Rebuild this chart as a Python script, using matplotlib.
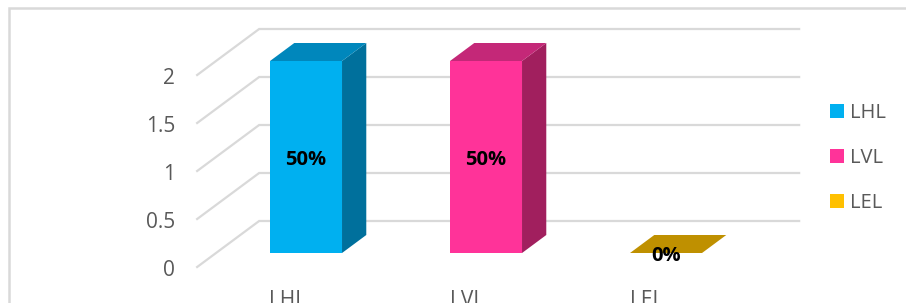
import matplotlib
matplotlib.use("Agg")
import matplotlib.pyplot as plt
from matplotlib.patches import Polygon, Rectangle
from matplotlib.transforms import offset_copy

# ---- data ----
categories = ["LHL", "LVL", "LEL"]
values = [2, 2, 0]
labels = ["50%", "50%", "0%"]
yticks = [0, 0.5, 1, 1.5, 2]
ytick_labels = ["0", "0.5", "1", "1.5", "2"]

front_colors = ["#00B0F0", "#FF3399", "#FFC000"]
top_colors = ["#0087BC", "#C42878", "#BF9000"]
side_colors = ["#00709C", "#A11F5E", "#9C7500"]

plt.rcParams['font.family'] = ['Open Sans', 'DejaVu Sans']

W, H, DPI = 906, 303, 100
fig = plt.figure(figsize=(W / DPI, H / DPI), dpi=DPI)
ax = fig.add_axes([0, 0, 1, 1])
ax.set_axis_off()

PX_CAT = 180.0   # pixels per category
PX_VAL = 96.0    # pixels per value unit
X0_PX = 287.15   # pixel x of category 0 at front edge
Y0_PX = 36.0     # pixel y (from bottom) of value 0 at front edge
ax.set_xlim(-X0_PX / PX_CAT, (W - X0_PX) / PX_CAT)
ax.set_ylim(-Y0_PX / PX_VAL, (H - Y0_PX) / PX_VAL)

DX = 62.0 / PX_CAT   # full-depth shift in category units
DY = 46.0 / PX_VAL   # full-depth shift in value units


def P(x, v, t):
    return (x + t * DX, v + t * DY)


grid_color = "#D9D9D9"
xl, xr = -0.5, 2.5
for v in yticks:
    a = P(xl, v, 0)
    b = P(xl, v, 1)
    c = P(xr, v, 1)
    ax.plot([a[0], b[0], c[0]], [a[1], b[1], c[1]], color=grid_color, lw=1.6,
            solid_joinstyle='miter', zorder=1)

# y tick labels
tr_lab = offset_copy(ax.transData, fig=fig, x=-22, y=-3, units='dots')
for v, s in zip(yticks, ytick_labels):
    x, y = P(xl, v, 0)
    ax.text(x, y, s, transform=tr_lab, ha='right', va='center',
            fontsize=15, color="#595959")

# bars
bw = 0.4
t0, t1 = 14 / 46, 32 / 46
tr_mid = offset_copy(ax.transData, fig=fig, x=0, y=-3, units='dots')
for i, (val, fc, tc, sc) in enumerate(zip(values, front_colors, top_colors, side_colors)):
    x0, x1 = i - bw / 2, i + bw / 2
    front = [P(x0, 0, t0), P(x1, 0, t0), P(x1, val, t0), P(x0, val, t0)]
    top = [P(x0, val, t0), P(x1, val, t0), P(x1, val, t1), P(x0, val, t1)]
    side = [P(x1, 0, t0), P(x1, 0, t1), P(x1, val, t1), P(x1, val, t0)]
    if val > 0:
        ax.add_patch(Polygon(side, closed=True, facecolor=sc, edgecolor='none', zorder=3))
        ax.add_patch(Polygon(front, closed=True, facecolor=fc, edgecolor='none', zorder=3))
    ax.add_patch(Polygon(top, closed=True, facecolor=tc, edgecolor='none', zorder=3))
    # data label
    if val > 0:
        lx, ly = P(i, val / 2, t0)
        ax.text(lx, ly, labels[i], ha='center', va='center', fontsize=14.5,
                fontweight='bold', color='black', zorder=5, transform=tr_mid)
    else:
        lx, ly = P(i, 0, t0)
        tr_dl = offset_copy(ax.transData, fig=fig, x=0, y=-3, units='dots')
        ax.text(lx, ly, labels[i], ha='center', va='center', fontsize=14.5,
                fontweight='bold', color='black', zorder=5, transform=tr_dl)

# category labels
tr_cat = offset_copy(ax.transData, fig=fig, x=0, y=-23, units='dots')
for i, c in enumerate(categories):
    x, y = P(i, 0, 0)
    ax.text(x, y, c, transform=tr_cat, ha='center', va='top', fontsize=15,
            color="#595959")

# legend
leg_x_sq = 830
leg_y = [111, 156, 201]
for c, fc, yy in zip(categories, front_colors, leg_y):
    fig.patches.append(Rectangle((leg_x_sq / W, 1 - (yy + 7) / H), 14 / W, 14 / H,
                                 transform=fig.transFigure, facecolor=fc,
                                 edgecolor='none'))
    fig.text((leg_x_sq + 20) / W, 1 - (yy + 2) / H, c, ha='left', va='center',
             fontsize=14.5, color="#595959")

# chart border
fig.patches.append(Rectangle((8.5 / W, -0.1), 1.2, 1 - 7.5 / H + 0.1,
                             transform=fig.transFigure, facecolor='none',
                             edgecolor='#D9D9D9', lw=1.8))

fig.savefig("out.png", dpi=DPI)
